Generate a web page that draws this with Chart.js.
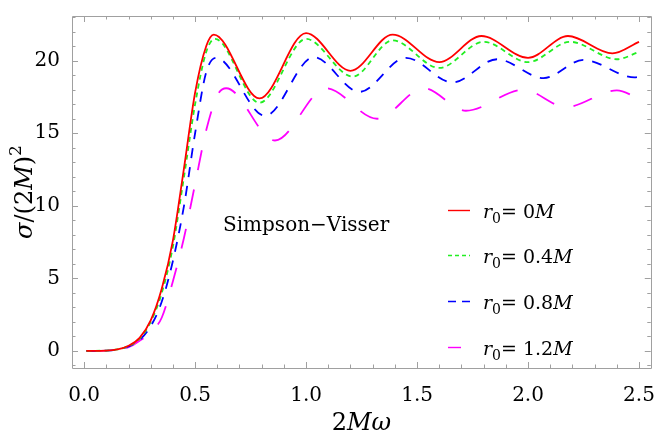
<!DOCTYPE html>
<html>
<head>
<meta charset="utf-8">
<script src="https://cdn.jsdelivr.net/npm/chart.js@4.4.0/dist/chart.umd.min.js"></script>
<style>
  html, body { margin: 0; padding: 0; background: #fff; }
  #wrap { width: 663px; height: 437px; }
</style>
</head>
<body>
<div id="wrap"><canvas id="myChart" width="663" height="437"></canvas></div>
<script>
// r0 values of the four curves (legend)
let r0Labels = ['0', '0.4', '0.8', '1.2'];

// x = 2Mω, y = σ/(2M)^2
let xRed = [0.01, 0.1, 0.15, 0.2, 0.25, 0.3, 0.35, 0.4, 0.45, 0.5, 0.55, 0.584, 0.79, 1.0, 1.2, 1.39, 1.6, 1.79, 2.0, 2.18, 2.38, 2.5];
let yRed = [0, 0.02, 0.1, 0.35, 0.9, 2.1, 4.3, 7.6, 12.6, 17.8, 21.0, 21.8, 17.4, 21.9, 19.3, 21.8, 19.9, 21.7, 20.2, 21.7, 20.5, 21.3];

let xGreen = [0.01, 0.1, 0.15, 0.2, 0.25, 0.3, 0.35, 0.4, 0.45, 0.5, 0.55, 0.59, 0.79, 1.0, 1.21, 1.39, 1.6, 1.8, 2.0, 2.19, 2.4, 2.5];
let yGreen = [0, 0.02, 0.1, 0.33, 0.85, 2.0, 4.0, 7.2, 12.0, 17.0, 20.6, 21.5, 17.1, 21.5, 18.9, 21.4, 19.5, 21.3, 19.9, 21.3, 20.1, 20.6];

let xBlue = [0.01, 0.1, 0.15, 0.2, 0.25, 0.3, 0.35, 0.4, 0.45, 0.5, 0.55, 0.595, 0.815, 1.035, 1.24, 1.45, 1.66, 1.86, 2.07, 2.25, 2.48, 2.5];
let yBlue = [0, 0.02, 0.09, 0.3, 0.75, 1.7, 3.4, 6.2, 10.0, 15.0, 19.2, 20.2, 16.2, 20.25, 17.85, 20.2, 18.5, 20.1, 18.8, 20.05, 18.85, 18.9];

let xMagenta = [0.01, 0.1, 0.15, 0.2, 0.25, 0.3, 0.35, 0.4, 0.45, 0.5, 0.55, 0.6, 0.64, 0.86, 1.09, 1.32, 1.53, 1.72, 1.98, 2.17, 2.4, 2.5];
let yMagenta = [0, 0.02, 0.08, 0.25, 0.7, 1.3, 2.3, 4.8, 7.8, 11.5, 15.2, 17.6, 18.1, 14.5, 18.1, 16.0, 18.1, 16.55, 18.0, 16.8, 17.95, 17.4];

// tick labels
let xTicks = [0, 0.5, 1.0, 1.5, 2.0, 2.5];
let yTicks = [0, 5, 10, 15, 20];

function points(xs, ys) {
    return xs.map(function (x, i) { return { x: x, y: ys[i] }; });
}

const colors = ['#ff0000', '#22ee22', '#0000ff', '#ff00ff'];
const dashes = [[], [5, 4], [10, 9], [20, 20]];
const legendDashes = [[], [4, 3], [8, 6], []];
const legendLen = [22, 22, 22, 13];
const seriesX = [xRed, xGreen, xBlue, xMagenta];
const seriesY = [yRed, yGreen, yBlue, yMagenta];

const serif = '"DejaVu Serif", serif';

// draw a string made of parts with different styles (italic, sub/superscript)
function drawParts(ctx, parts, x, y, size, align) {
    let widths = parts.map(function (p) {
        ctx.font = (p.italic ? 'italic ' : '') + Math.round(size * (p.scale || 1)) + 'px ' + serif;
        return ctx.measureText(p.t).width;
    });
    let total = widths.reduce(function (a, b) { return a + b; }, 0);
    let cx = align === 'center' ? x - total / 2 : x;
    parts.forEach(function (p, i) {
        ctx.font = (p.italic ? 'italic ' : '') + Math.round(size * (p.scale || 1)) + 'px ' + serif;
        ctx.fillText(p.t, cx, y + (p.dy || 0) * size);
        cx += widths[i];
    });
}

// frame with inward ticks, titles, legend and label
const framePlugin = {
    id: 'frame',
    afterDraw(chart) {
        const ctx = chart.ctx;
        const a = chart.chartArea;
        const xs = chart.scales.x, ys = chart.scales.y;
        ctx.save();
        ctx.strokeStyle = '#a0a0a0';
        ctx.lineWidth = 1;
        ctx.beginPath();
        ctx.rect(Math.round(a.left) + 0.5, Math.round(a.top) + 0.5, Math.round(a.right - a.left), Math.round(a.bottom - a.top));
        ctx.stroke();

        ctx.beginPath();
        for (let i = 0; i <= 25; i++) {
            let v = i / 10;
            let px = Math.round(xs.getPixelForValue(v)) + 0.5;
            let len = (i % 5 === 0) ? 6 : 3.5;
            ctx.moveTo(px, a.bottom); ctx.lineTo(px, a.bottom - len);
            ctx.moveTo(px, a.top); ctx.lineTo(px, a.top + len);
        }
        for (let v = -1; v <= 23; v++) {
            let py = Math.round(ys.getPixelForValue(v)) + 0.5;
            let len = (v % 5 === 0) ? 6 : 3.5;
            ctx.moveTo(a.left, py); ctx.lineTo(a.left + len, py);
            ctx.moveTo(a.right, py); ctx.lineTo(a.right - len, py);
        }
        ctx.stroke();

        ctx.fillStyle = '#000';
        ctx.textBaseline = 'alphabetic';
        // x axis title: 2Mω
        drawParts(ctx, [{ t: '2' }, { t: 'Mω', italic: true }], (a.left + a.right) / 2, 430, 24, 'center');
        // y axis title: σ/(2M)^2
        ctx.save();
        ctx.translate(32, (a.top + a.bottom) / 2);
        ctx.rotate(-Math.PI / 2);
        drawParts(ctx, [{ t: 'σ', italic: true }, { t: '/(2' }, { t: 'M', italic: true }, { t: ')' }, { t: '2', scale: 0.7, dy: -0.45 }], 0, 0, 24, 'center');
        ctx.restore();

        // label
        ctx.font = '20px ' + serif;
        ctx.fillText('Simpson\u2212Visser', 223, 231);

        // legend
        let baselines = [218, 263, 309, 355];
        r0Labels.forEach(function (lab, i) {
            let yb = baselines[i];
            ctx.strokeStyle = colors[i];
            ctx.lineWidth = 1.4;
            ctx.setLineDash(legendDashes[i]);
            ctx.beginPath();
            ctx.moveTo(448, yb - 7.5);
            ctx.lineTo(448 + legendLen[i], yb - 7.5);
            ctx.stroke();
            ctx.setLineDash([]);
            drawParts(ctx, [{ t: 'r', italic: true }, { t: '0', scale: 0.72, dy: 0.25 }, { t: '= ' + lab }, { t: 'M', italic: true }], 483, yb, 19, 'left');
        });
        ctx.restore();
    }
};

const chart = document.getElementById('myChart').getContext('2d');
const myChart = new Chart(chart, {
    type: 'scatter',
    data: {
        datasets: r0Labels.map(function (lab, i) {
            return {
                label: 'r0 = ' + lab + 'M',
                data: points(seriesX[i], seriesY[i]),
                showLine: true,
                borderColor: colors[i],
                borderWidth: 1.8,
                borderDash: dashes[i],
                pointRadius: 0,
                cubicInterpolationMode: 'monotone',
                fill: false
            };
        })
    },
    options: {
        responsive: false,
        animation: false,
        devicePixelRatio: 1,
        layout: { padding: { left: 0, right: 4, top: 6, bottom: 0 } },
        plugins: {
            legend: { display: false },
            tooltip: { enabled: false }
        },
        scales: {
            x: {
                type: 'linear',
                min: -0.0546,
                max: 2.553,
                grid: { display: false },
                border: { display: false },
                afterBuildTicks: function (s) { s.ticks = xTicks.map(function (v) { return { value: v }; }); },
                afterFit: function (s) { s.height = 69; },
                ticks: {
                    padding: 8,
                    color: '#000',
                    maxRotation: 0,
                    font: { family: serif, size: 20 },
                    callback: function (v) { return v.toFixed(1); }
                }
            },
            y: {
                type: 'linear',
                min: -1.18,
                max: 23.08,
                grid: { display: false },
                border: { display: false },
                afterBuildTicks: function (s) { s.ticks = yTicks.map(function (v) { return { value: v }; }); },
                afterFit: function (s) { s.width = 72; },
                ticks: {
                    padding: 4,
                    color: '#000',
                    font: { family: serif, size: 20 },
                    callback: function (v) { return String(v); }
                }
            }
        }
    },
    plugins: [framePlugin]
});
</script>
</body>
</html>
